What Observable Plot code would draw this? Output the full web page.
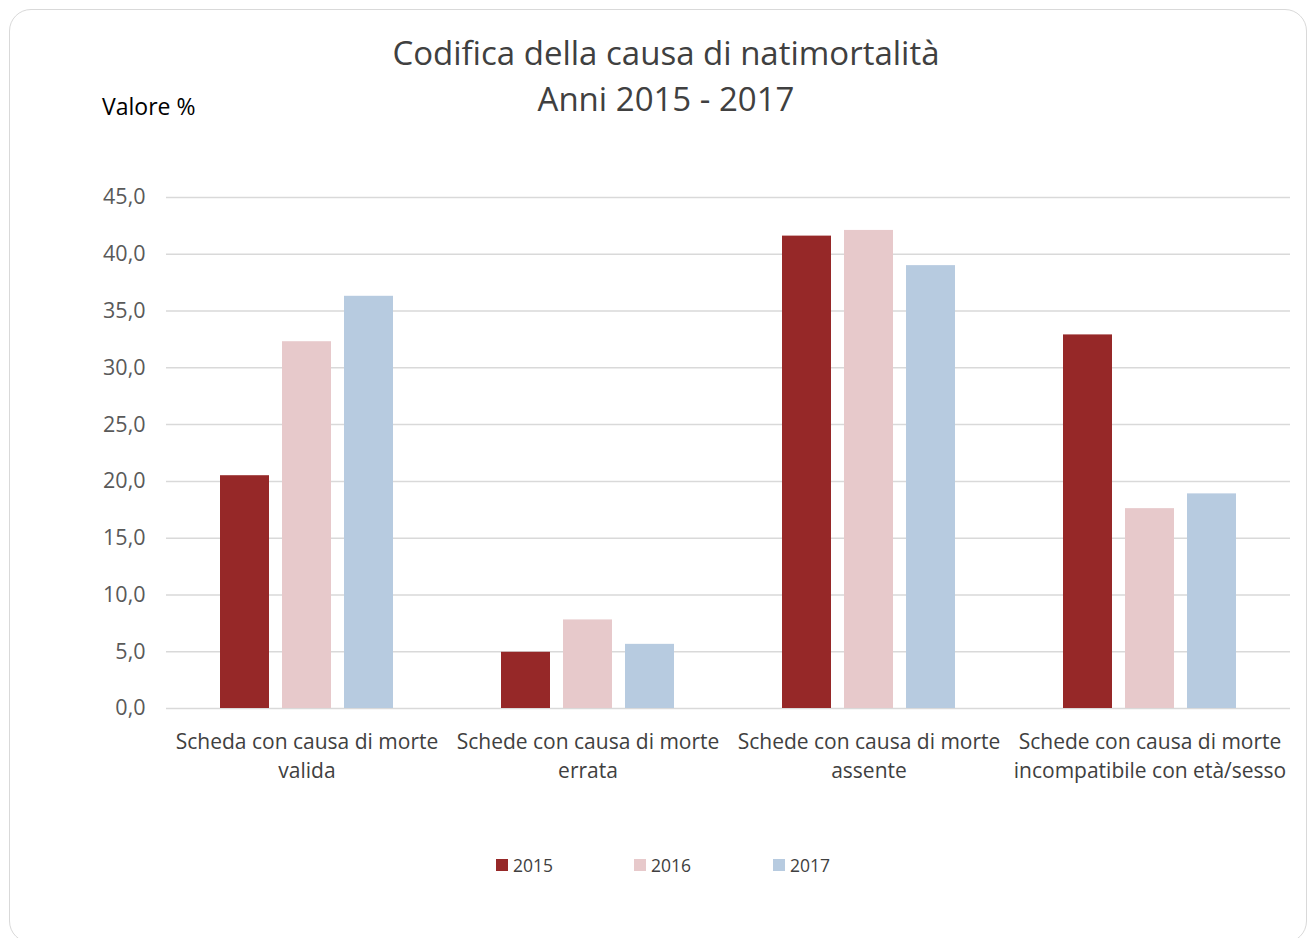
<!DOCTYPE html>
<html>
<head>
<meta charset="utf-8">
<script src="https://cdn.jsdelivr.net/npm/d3@7"></script>
<script src="https://cdn.jsdelivr.net/npm/@observablehq/plot@0.6"></script>
<style>
  html, body { margin: 0; padding: 0; background: #fff; }
  #wrap { position: relative; width: 1312px; height: 938px; overflow: hidden; font-family: "Open Sans", sans-serif; }
  #card { position: absolute; left: 9px; top: 9px; width: 1298px; height: 934px; border: 1.5px solid #d9d9d9; border-radius: 22px; box-sizing: border-box; }
  #title { position: absolute; left: 0; width: 1332px; top: 30px; text-align: center; color: #404040; font-size: 33px; line-height: 46px; }
  #ylab { position: absolute; left: 102px; top: 90px; color: #000; font-size: 23px; }
  #chart { position: absolute; left: 0; top: 150px; }
  #legend { position: absolute; top: 853px; left: 0; width: 1312px; font-size: 17.5px; color: #404040; }
  .li { position: absolute; display: flex; align-items: center; }
  .sw { width: 12px; height: 12px; margin-right: 5px; }
</style>
</head>
<body>
<div id="wrap">
  <div id="card"></div>
  <div id="title">Codifica della causa di natimortalità<br>Anni 2015 - 2017</div>
  <div id="ylab">Valore %</div>
  <div id="chart"></div>
  <div id="legend"></div>
</div>
<script>
const categories = [
  "Scheda con causa di morte\nvalida",
  "Schede con causa di morte\nerrata",
  "Schede con causa di morte\nassente",
  "Schede con causa di morte\nincompatibile con età/sesso"
];
const years = ["2015", "2016", "2017"];
const values2015 = [20.5, 4.95, 41.6, 32.9];
const values2016 = [32.3, 7.8, 42.1, 17.6];
const values2017 = [36.3, 5.65, 39.0, 18.9];
const yTicks = [0, 5, 10, 15, 20, 25, 30, 35, 40, 45];
const colors = ["#962828", "#e7c9cb", "#b7cbe0"];

const series = [values2015, values2016, values2017];
const data = [];
categories.forEach((c, i) => {
  years.forEach((y, j) => data.push({cat: c, year: y, value: series[j][i]}));
});

const fmt = d => d.toFixed(1).replace(".", ",");

const chart = Plot.plot({
  width: 1312,
  height: 638,
  marginLeft: 166,
  marginRight: 22,
  marginTop: 47,
  marginBottom: 80,
  style: {fontFamily: "'Open Sans', sans-serif", background: "transparent"},
  fx: {domain: categories, padding: 0, label: null, axis: null},
  x: {domain: years, paddingInner: 0.21, paddingOuter: 0.867, axis: null},
  y: {domain: [0, 45], label: null},
  color: {domain: years, range: colors},
  marks: [
    Plot.ruleY(yTicks, {stroke: "#d9d9d9", strokeWidth: 1.5}),
    Plot.barY(data, {fx: "cat", x: "year", y: "value", fill: "year"}),
    Plot.axisY({ticks: yTicks, tickSize: 0, tickPadding: 21, tickFormat: fmt, fontSize: 21.5, fill: "#595959", label: null}),
    Plot.axisFx({anchor: "bottom", tickSize: 0, tickPadding: 20, fontSize: 21, lineHeight: 1.38, fill: "#404040", label: null})
  ]
});
document.getElementById("chart").appendChild(chart);

const legend = document.getElementById("legend");
const lx = [496, 634, 773];
years.forEach((y, i) => {
  const el = document.createElement("div");
  el.className = "li";
  el.style.left = lx[i] + "px";
  el.innerHTML = `<div class="sw" style="background:${colors[i]}"></div><span>${y}</span>`;
  legend.appendChild(el);
});
</script>
</body>
</html>
